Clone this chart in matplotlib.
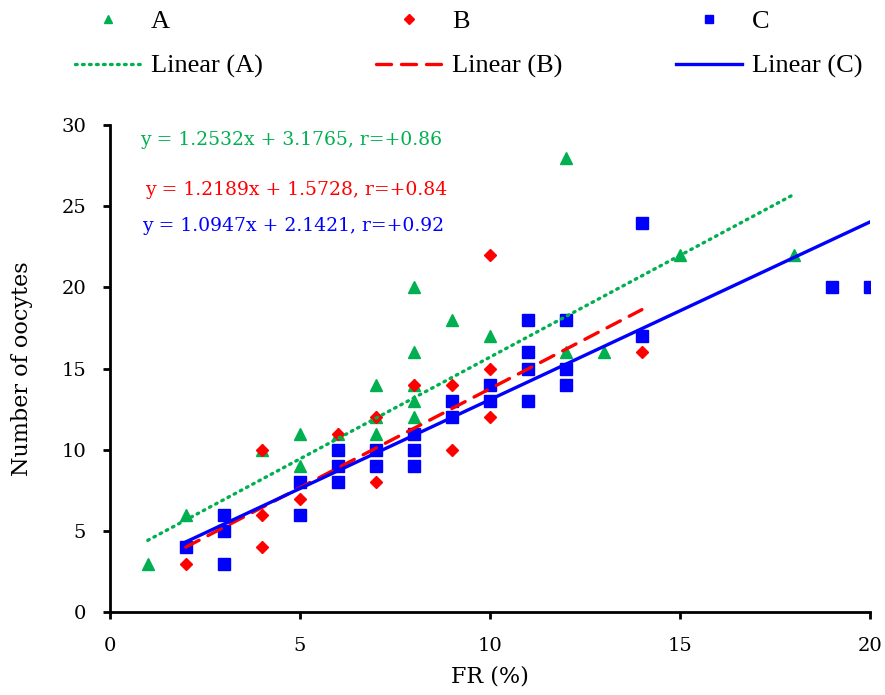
import numpy as np
import matplotlib
matplotlib.use("Agg")
import matplotlib.pyplot as plt

# data
a_x = [1, 2, 4, 5, 5, 6, 7, 7, 7, 8, 8, 8, 8, 8, 9, 10, 12, 12, 13, 15, 18]
a_y = [3, 6, 10, 11, 9, 11, 14, 12, 11, 20, 16, 14, 13, 12, 18, 17, 28, 16, 16, 22, 22]

b_x = [2, 4, 4, 4, 5, 6, 7, 7, 8, 9, 9, 10, 10, 10, 14]
b_y = [3, 10, 6, 4, 7, 11, 12, 8, 14, 14, 10, 22, 15, 12, 16]

c_x = [2, 3, 3, 3, 5, 5, 6, 6, 6, 7, 7, 8, 8, 8, 9, 9, 10, 10,
       11, 11, 11, 11, 12, 12, 12, 14, 14, 19, 20]
c_y = [4, 6, 5, 3, 8, 6, 10, 9, 8, 10, 9, 11, 10, 9, 13, 12, 14, 13,
       18, 16, 15, 13, 18, 15, 14, 17, 24, 20, 20]

# trendline coefficients shown on the chart
slopes = [1.2532, 1.2189, 1.0947]
intercepts = [3.1765, 1.5728, 2.1421]
r_vals = ["+0.86", "+0.84", "+0.92"]

green = "#00B050"
red = "#FF0000"
blue = "#0000FF"

serif = ["DejaVu Serif"]

fig = plt.figure(figsize=(8.85, 6.95), dpi=100)
ax = fig.add_axes([0.124, 0.119, 0.859, 0.701])

pa, = ax.plot(a_x, a_y, "^", color=green, ms=8, ls="none", label="A")
pb, = ax.plot(b_x, b_y, "D", color=red, ms=6, ls="none", label="B")
pc, = ax.plot(c_x, c_y, "s", color=blue, ms=8, ls="none", label="C")

lines = []
styles = [(green, (0, (0.5, 1.6)), "round"), (red, (0, (4.5, 3)), "round"), (blue, "-", "butt")]
for xs, m, b, (col, ls, cap), name in zip([a_x, b_x, c_x], slopes, intercepts, styles, ["A", "B", "C"]):
    xx = np.array([min(xs), max(xs)])
    ln, = ax.plot(xx, m * xx + b, color=col, lw=2.4, ls=ls,
                  dash_capstyle=cap, label="Linear (%s)" % name)
    lines.append(ln)

eq_pos = [(0.8, 29.1), (0.92, 26.0), (0.84, 23.8)]
for (tx, ty), m, b, r, col in zip(eq_pos, slopes, intercepts, r_vals, [green, red, blue]):
    ax.text(tx, ty, "y = %.4fx + %.4f, r=%s" % (m, b, r), color=col,
            fontsize=13.5, family=serif, va="center")

ax.set_xlim(0, 20)
ax.set_ylim(0, 30)
ax.set_xticks([0, 5, 10, 15, 20])
ax.set_yticks([0, 5, 10, 15, 20, 25, 30])
for s in ["top", "right"]:
    ax.spines[s].set_visible(False)
for s in ["left", "bottom"]:
    ax.spines[s].set_linewidth(2)
ax.tick_params(width=2, length=5, labelsize=14)
ax.tick_params(axis="x", pad=13)
ax.tick_params(axis="y", pad=12)
for lab in ax.get_xticklabels() + ax.get_yticklabels():
    lab.set_family(serif)
ax.set_xlabel("FR (%)", fontsize=16, family=serif, labelpad=7)
ax.set_ylabel("Number of oocytes", fontsize=16, family=serif, labelpad=20)

fig.legend([pa, lines[0], pb, lines[1], pc, lines[2]],
           ["A", "Linear (A)", "B", "Linear (B)", "C", "Linear (C)"],
           ncol=3, loc="upper left", bbox_to_anchor=(0.058, 1.02),
           frameon=False, prop={"family": "Liberation Serif", "size": 19},
           handlelength=2.5, columnspacing=4.3, handletextpad=0.38,
           labelspacing=0.8, markerscale=0.8)

fig.savefig("out.png", dpi=100)
